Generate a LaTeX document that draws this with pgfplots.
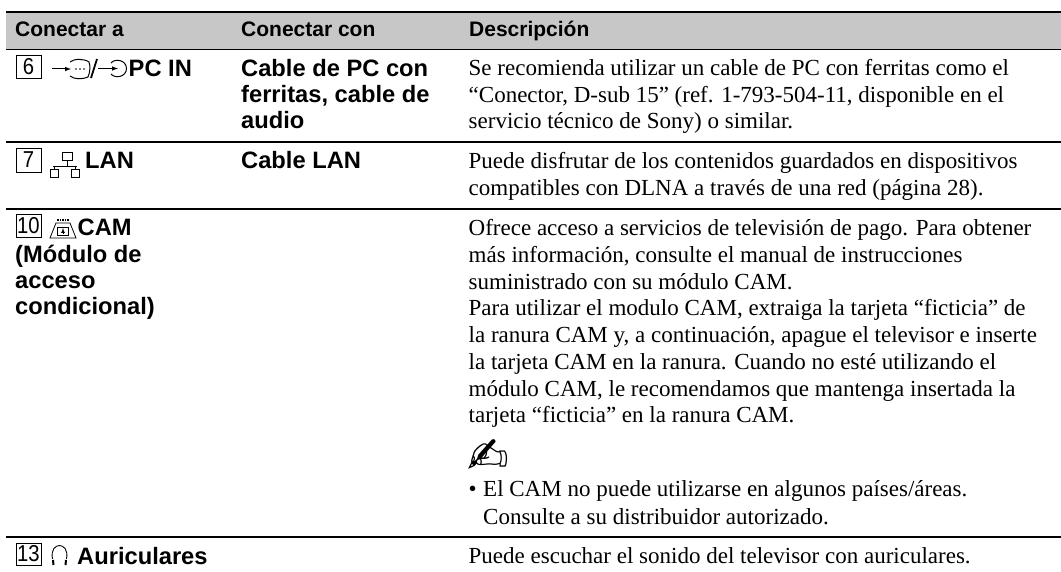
\documentclass[border=0pt]{standalone}
\usepackage{pgfplots}
\pgfplotsset{compat=1.18}
\usepackage{fontspec}
\setmainfont{Liberation Serif}
\newfontfamily\hvf{Liberation Sans}
\newfontfamily\djf{DejaVu Sans}
\newcommand{\RT}[2]{\node[anchor=base west,inner sep=0pt] at (axis cs:468.5,#1) {\fontsize{23}{25}\selectfont #2};}
\newcommand{\RX}[3]{\node[anchor=base west,inner sep=0pt] at (axis cs:#1,#2) {\fontsize{23}{25}\selectfont #3};}
\newcommand{\RB}[3]{\node[anchor=base west,inner sep=0pt] at (axis cs:#1,#2) {\hvf\bfseries\fontsize{23.7}{25}\selectfont #3};}
\newcommand{\RH}[2]{\node[anchor=base west,inner sep=0pt] at (axis cs:#1,36.5) {\hvf\bfseries\fontsize{21}{25}\selectfont #2};}
\newcommand{\RN}[5]{\draw[line width=0.8pt] (axis cs:#1,#2) rectangle (axis cs:#3,#4);
  \node[anchor=center,inner sep=0pt,xscale=0.88] at (axis cs:{(#1+#3)/2},{(#2+#4)/2}) {\hvf\fontsize{23}{25}\selectfont #5};}
\begin{document}
\begin{tikzpicture}
\begin{axis}[x=1pt,y=-1pt,xmin=0,xmax=1061,ymin=0,ymax=572,hide axis,clip=false,scale only axis]
\path[use as bounding box] (axis cs:0,0) rectangle (axis cs:1061,572);
\addplot[draw=none,fill=black!22] coordinates {(6,12) (1061,12) (1061,49) (6,49)} -- cycle;
\addplot[black,line width=2pt] coordinates {(6,12) (1061,12)};
\addplot[black,line width=1.8pt] coordinates {(6,49.5) (1061,49.5)};
\addplot[black,line width=1.8pt] coordinates {(6,141.7) (1061,141.7)};
\addplot[black,line width=1.8pt] coordinates {(6,209) (1061,209)};
\addplot[black,line width=1.8pt] coordinates {(6,536.7) (1061,536.7)};
\RH{15}{Conectar a}
\RH{241}{Conectar con}
\RH{469}{Descripción}
% row 1
\RN{16}{55}{41}{78}{6}
\draw[line width=1pt,-latex] (axis cs:52,69)--(axis cs:71,69);
\draw[line width=1pt] (axis cs:70,62) .. controls (axis cs:74,58.5) and (axis cs:84,58.5) .. (axis cs:89,62) .. controls (axis cs:90.5,66) and (axis cs:90,73) .. (axis cs:88,77) .. controls (axis cs:83,79.5) and (axis cs:74,79.5) .. (axis cs:70,76);
\fill (axis cs:76,69) circle (0.9pt);
\fill (axis cs:80,69) circle (0.9pt);
\fill (axis cs:84,69) circle (0.9pt);
\draw[line width=1.8pt] (axis cs:91,78)--(axis cs:97,59);
\draw[line width=1pt,-latex] (axis cs:98,68.5)--(axis cs:118,68.5);
\draw[line width=1pt] (axis cs:111,63) .. controls (axis cs:115,58) and (axis cs:126.5,60) .. (axis cs:126.5,68.5) .. controls (axis cs:126.5,77) and (axis cs:115,79) .. (axis cs:111,74);
\RB{128.5}{76.5}{PC IN}
\RB{241}{76.5}{Cable de PC con}
\RB{241}{102.5}{ferritas, cable de}
\RB{241}{128.5}{audio}
\RT{76}{Se recomienda utilizar un cable de PC con ferritas como el}
\RT{102.6}{“Conector, D-sub 15” (ref. 1-793-504-11, disponible en el}
\RT{129}{servicio técnico de Sony) o similar.}
% row 2
\RN{16}{148}{41}{172}{7}
\draw[line width=0.9pt] (axis cs:62,152) rectangle (axis cs:72,160);
\draw[line width=0.9pt] (axis cs:67,160)--(axis cs:67,166);
\draw[line width=0.9pt] (axis cs:53,166)--(axis cs:77,166);
\draw[line width=0.9pt] (axis cs:54,166)--(axis cs:54,169);
\draw[line width=0.9pt] (axis cs:75,166)--(axis cs:75,169);
\draw[line width=0.9pt] (axis cs:50,169) rectangle (axis cs:58,177);
\draw[line width=0.9pt] (axis cs:71,169) rectangle (axis cs:79,177);
\RB{85}{168.3}{LAN}
\RB{241}{168.3}{Cable LAN}
\RT{169}{Puede disfrutar de los contenidos guardados en dispositivos}
\RT{195.6}{compatibles con DLNA a través de una red (página 28).}
% row 3
\RN{16}{214}{41}{237}{10}
\draw[line width=0.8pt] (axis cs:56,223) -- (axis cs:70,223) -- (axis cs:76,238) -- (axis cs:50,238) -- cycle;
\draw[line width=1.6pt,densely dotted] (axis cs:57,220) -- (axis cs:69,220);
\draw[line width=0.7pt] (axis cs:57.5,227) rectangle (axis cs:68.5,235);
\draw[line width=0.7pt,-latex] (axis cs:63,234)--(axis cs:63,228);
\RB{77.5}{236}{CAM}
\RB{15}{263}{(Módulo de}
\RB{15}{289}{acceso}
\RB{15}{314.5}{condicional)}
\RT{236}{Ofrece acceso a servicios de televisión de pago. Para obtener}
\RT{262.7}{más información, consulte el manual de instrucciones}
\RT{289.3}{suministrado con su módulo CAM.}
\RT{316}{Para utilizar el modulo CAM, extraiga la tarjeta “ficticia” de}
\RT{342.7}{la ranura CAM y, a continuación, apague el televisor e inserte}
\RT{369.3}{la tarjeta CAM en la ranura. Cuando no esté utilizando el}
\RT{396}{módulo CAM, le recomendamos que mantenga insertada la}
\RT{422.7}{tarjeta “ficticia” en la ranura CAM.}
\node[anchor=base west,inner sep=0pt] at (axis cs:467,473) {\djf\fontsize{50}{50}\selectfont ✍};
\RX{468.5}{496}{•}
\RX{483}{496}{El CAM no puede utilizarse en algunos países/áreas.}
\RX{483}{524}{Consulte a su distribuidor autorizado.}
% row 4
\RN{16}{543}{41}{565}{13}
\draw[line width=0.9pt] (axis cs:52.5,559) .. controls (axis cs:49,541) and (axis cs:70,541) .. (axis cs:66.5,559);
\draw[line width=2pt] (axis cs:53,560)--(axis cs:53.5,565);
\draw[line width=2pt] (axis cs:66,560)--(axis cs:65.5,565);
\RB{77}{564}{Auriculares}
\RT{563.5}{Puede escuchar el sonido del televisor con auriculares.}
\end{axis}
\end{tikzpicture}
\end{document}
